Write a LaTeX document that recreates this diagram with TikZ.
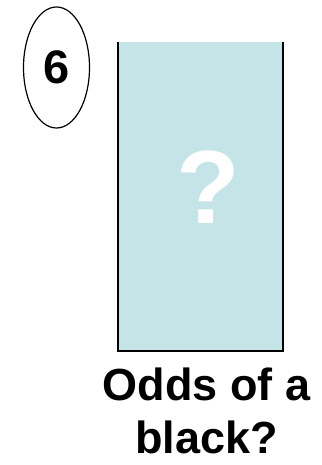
\documentclass[tikz,border=0pt]{standalone}
\usepackage{fontspec}
\setmainfont{Liberation Sans}
\usetikzlibrary{shapes,positioning}
\definecolor{cardblue}{RGB}{197,228,232}

\begin{document}
\begin{tikzpicture}[x=1pt, y=-1pt,
    num/.style={ellipse, draw, line width=1.2pt, minimum width=66pt, minimum height=121pt, inner sep=0pt, font=\fontsize{47}{47}\selectfont\bfseries},
    box/.style={rectangle, fill=cardblue, minimum width=165pt, minimum height=309pt, inner sep=0pt},
    qmark/.style={text=white, font=\fontsize{104}{104}\selectfont\bfseries},
    caption/.style={align=center, inner sep=0pt, font=\fontsize{45}{53}\selectfont\bfseries}
]
\useasboundingbox (0,0) rectangle (321,465);

\node[num] (n6) at (56.5,67.5) {6};
\node[box] (card) at (200.5,196.5) {};
\draw[line width=1.5pt] (card.north west) -- (card.south west) -- (card.south east) -- (card.north east);
\node[qmark] (q) at (208,187) {?};
\node[caption, below=16pt of card.south, xshift=6pt] (odds) {Odds of a\\black?};

\end{tikzpicture}
\end{document}
